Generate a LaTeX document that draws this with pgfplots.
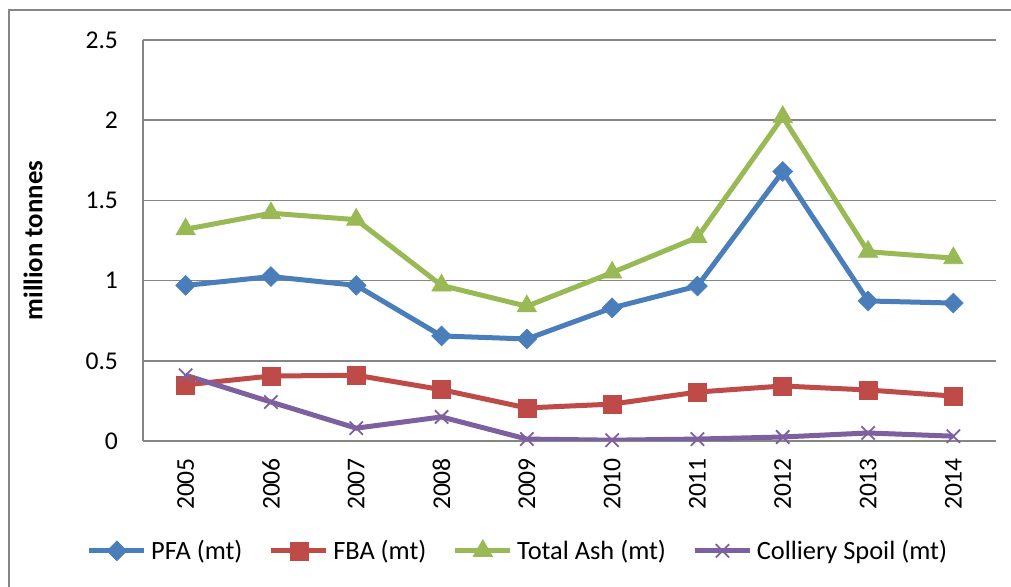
\documentclass[border=0pt]{standalone}
\usepackage{fontspec}
\setmainfont{Carlito}
\usepackage{pgfplots}
\pgfplotsset{compat=1.18}
\definecolor{cPFA}{RGB}{74,126,187}
\definecolor{cFBA}{RGB}{190,75,72}
\definecolor{cTA}{RGB}{152,185,84}
\definecolor{cCS}{RGB}{125,96,160}
\definecolor{cgrid}{RGB}{134,134,134}
\begin{document}
\begin{tikzpicture}
\useasboundingbox (0,0) rectangle (505.5pt,293.5pt);
\fill[white] (0,0) rectangle (505.5pt,293.5pt);
\draw[cgrid, line width=0.8pt] (4.5pt,-2pt) -- (4.5pt,288.5pt) -- (508pt,288.5pt);
\begin{axis}[
  at={(71.5pt,73pt)}, anchor=south west,
  scale only axis, width=426.5pt, height=200.5pt,
  xmin=-0.5, xmax=9.5, ymin=0, ymax=2.5,
  xtick=data,
  xticklabels={2005,2006,2007,2008,2009,2010,2011,2012,2013,2014},
  ytick={0,0.5,1,1.5,2,2.5},
  yticklabels={0,0.5,1,1.5,2,2.5},
  /pgf/number format/assume math mode=true,
  tick style={draw=none},
  ymajorgrids, grid style={cgrid, line width=0.75pt},
  axis x line*=bottom, axis y line*=left,
  axis line style={cgrid, line width=0.75pt, -},
  every tick label/.append style={font=\fontsize{12.8}{15}\selectfont},
  xticklabel style={rotate=90, anchor=east, xshift=-5pt},
  yticklabel style={anchor=east, xshift=-9pt},
  ylabel={\textbf{million tonnes}},
  every axis y label/.style={at={(axis description cs:-0.129,0.5)}, rotate=90, anchor=center, font=\fontsize{13.4}{15}\selectfont},
  legend columns=4,
  legend style={at={(axis description cs:0.441,-0.274)}, anchor=center, draw=none, fill=none,
    font=\fontsize{13.2}{15}\selectfont,
    nodes={inner xsep=2.2pt},
    /tikz/every odd column/.append style={column sep=0pt},
    /tikz/every even column/.append style={column sep=11pt}},
  legend cell align=left,
  legend image code/.code={
    \draw[#1, mark repeat=2, mark phase=2] plot coordinates {(0pt,0pt) (13.75pt,0pt) (27.5pt,0pt)};
  },
]
\addplot[cPFA, line width=2.5pt, mark=square*, mark size=3.5pt, mark options={solid, rotate=45, line width=0.3pt}] coordinates {
(0,0.97) (1,1.025) (2,0.97) (3,0.655) (4,0.636) (5,0.83) (6,0.966) (7,1.68) (8,0.873) (9,0.86)};
\addlegendentry{PFA (mt)}
\addplot[cFBA, line width=2.5pt, mark=square*, mark size=4.5pt, mark options={solid, line width=0.3pt}] coordinates {
(0,0.35) (1,0.405) (2,0.41) (3,0.32) (4,0.206) (5,0.23) (6,0.305) (7,0.343) (8,0.318) (9,0.28)};
\addlegendentry{FBA (mt)}
\addplot[cTA, line width=2.5pt, mark=triangle*, mark size=5.6pt, mark options={solid, line width=0.3pt}] coordinates {
(0,1.32) (1,1.42) (2,1.38) (3,0.97) (4,0.84) (5,1.05) (6,1.27) (7,2.02) (8,1.18) (9,1.14)};
\addlegendentry{Total Ash (mt)}
\addplot[cCS, line width=2.5pt, mark=x, mark size=4.7pt, mark options={solid, line width=0.9pt}] coordinates {
(0,0.41) (1,0.243) (2,0.08) (3,0.15) (4,0.012) (5,0.005) (6,0.012) (7,0.025) (8,0.05) (9,0.03)};
\addlegendentry{Colliery Spoil (mt)}
\end{axis}
\end{tikzpicture}
\end{document}
